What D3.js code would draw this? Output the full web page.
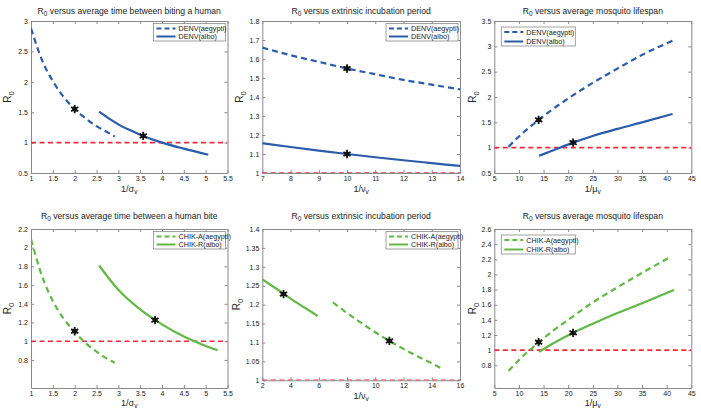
<!DOCTYPE html>
<html><head><meta charset="utf-8">
<script src="https://cdn.jsdelivr.net/npm/d3@7"></script>
<style>body{margin:0;background:#fff} svg{display:block;font-family:"Liberation Sans",Arial,sans-serif}</style>
</head><body><svg id="c" width="701" height="408"></svg>
<script>
// ---------- data ----------
const denvSigAegX = [1, 1.25, 1.5, 1.75, 2, 2.25, 2.5, 2.75, 2.92];
const denvSigAegY = [2.88, 2.36, 2.01, 1.75, 1.55, 1.40, 1.27, 1.17, 1.10];
const denvSigAlbX = [2.56, 2.8, 3, 3.25, 3.5, 4, 4.5, 5.06];
const denvSigAlbY = [1.51, 1.39, 1.30, 1.21, 1.13, 1.00, 0.90, 0.80];
const denvSigStarX = [2, 3.57];
const denvSigStarY = [1.55, 1.11];

const denvNuX = [7, 8, 9, 10, 11, 12, 13, 14];
const denvNuAegY = [1.66, 1.62, 1.585, 1.55, 1.52, 1.49, 1.465, 1.44];
const denvNuAlbY = [1.157, 1.137, 1.118, 1.10, 1.083, 1.067, 1.052, 1.037];
const denvNuStarX = [10, 10];
const denvNuStarY = [1.55, 1.10];

const denvMuAegX = [7.9, 10, 12, 14, 17, 20, 25, 30, 35, 41.2];
const denvMuAegY = [1.02, 1.22, 1.39, 1.55, 1.77, 1.97, 2.28, 2.56, 2.83, 3.11];
const denvMuAlbX = [14.1, 17, 21, 25, 30, 35, 41.2];
const denvMuAlbY = [0.84, 0.95, 1.10, 1.23, 1.37, 1.50, 1.665];
const denvMuStarX = [14, 21];
const denvMuStarY = [1.55, 1.10];

const chikSigAegX = [1, 1.25, 1.5, 1.75, 2, 2.25, 2.5, 2.75, 2.92];
const chikSigAegY = [2.09, 1.70, 1.43, 1.24, 1.10, 0.98, 0.89, 0.81, 0.77];
const chikSigAlbX = [2.56, 3, 3.5, 4, 4.5, 5, 5.27];
const chikSigAlbY = [1.81, 1.55, 1.34, 1.18, 1.05, 0.95, 0.905];
const chikSigStarX = [2, 3.84];
const chikSigStarY = [1.107, 1.226];

const chikNuAlbX = [2, 3, 4, 5, 5.92];
const chikNuAlbY = [1.267, 1.242, 1.216, 1.192, 1.17];
const chikNuAegX = [7, 8, 9, 10, 11, 12, 13, 14, 14.7];
const chikNuAegY = [1.206, 1.178, 1.152, 1.127, 1.104, 1.083, 1.063, 1.045, 1.031];
const chikNuStarX = [3.5, 11];
const chikNuStarY = [1.228, 1.104];

const chikMuAegX = [7.9, 10, 12, 14, 17, 20, 25, 30, 35, 40.7];
const chikMuAegY = [0.725, 0.87, 0.99, 1.10, 1.26, 1.40, 1.63, 1.83, 2.02, 2.23];
const chikMuAlbX = [14.1, 17, 21, 25, 30, 35, 41.5];
const chikMuAlbY = [0.977, 1.09, 1.229, 1.35, 1.49, 1.62, 1.795];
const chikMuStarX = [14, 21];
const chikMuStarY = [1.105, 1.229];

const threshold = 1;

const tSig = [1, 1.5, 2, 2.5, 3, 3.5, 4, 4.5, 5, 5.5];
const tNu1 = [7, 8, 9, 10, 11, 12, 13, 14];
const tNu2 = [2, 4, 6, 8, 10, 12, 14, 16];
const tMu = [5, 10, 15, 20, 25, 30, 35, 40, 45];
const yt1 = [0.5, 1, 1.5, 2, 2.5, 3];
const yt2 = [1, 1.1, 1.2, 1.3, 1.4, 1.5, 1.6, 1.7, 1.8];
const yt3 = [0.5, 1, 1.5, 2, 2.5, 3, 3.5];
const yt4 = [0.8, 1, 1.2, 1.4, 1.6, 1.8, 2, 2.2];
const yt5 = [1, 1.05, 1.1, 1.15, 1.2, 1.25, 1.3, 1.35, 1.4];
const yt6 = [0.8, 1, 1.2, 1.4, 1.6, 1.8, 2, 2.2, 2.4, 2.6];

const titles = ["versus average time between biting a human", "versus extrinsic incubation period", "versus average mosquito lifespan",
                "versus average time between a human bite", "versus extrinsic incubation period", "versus average mosquito lifespan"];
const denvNames = ["DENV(aegypti)", "DENV(albo)"];
const chikNames = ["CHIK-A(aegypti)", "CHIK-R(albo)"];

// ---------- styles ----------
const BLUE = "#2a5caa", GREEN = "#62b845", RED = "#f0283c";

const zip = (xs, ys) => xs.map((x, i) => [x, ys[i]]);

const panels = [
  {box:[31,21,227.5,173], xd:[1,5.5], yd:[0.5,3], xt:tSig, yt:yt1, title:titles[0], greek:"σ", color:BLUE, names:denvNames,
   aeg:zip(denvSigAegX,denvSigAegY), alb:zip(denvSigAlbX,denvSigAlbY), stars:zip(denvSigStarX,denvSigStarY),
   leg:"tr", titleY:13.5, xlabY:191.5, ylabX:11},
  {box:[262.3,21,460,173], xd:[7,14], yd:[1,1.8], xt:tNu1, yt:yt2, title:titles[1], greek:"ν", color:BLUE, names:denvNames,
   aeg:zip(denvNuX,denvNuAegY), alb:zip(denvNuX,denvNuAlbY), stars:zip(denvNuStarX,denvNuStarY),
   leg:"tr", titleY:13.5, xlabY:191.5, ylabX:243},
  {box:[494.3,21,691.3,173], xd:[5,45], yd:[0.5,3.5], xt:tMu, yt:yt3, title:titles[2], greek:"μ", color:BLUE, names:denvNames,
   aeg:zip(denvMuAegX,denvMuAegY), alb:zip(denvMuAlbX,denvMuAlbY), stars:zip(denvMuStarX,denvMuStarY),
   leg:"tl", titleY:13.5, xlabY:191.5, ylabX:476},
  {box:[31,229,227.5,388], xd:[1,5.5], yd:[0.5,2.2], xt:tSig, yt:yt4, title:titles[3], greek:"σ", color:GREEN, names:chikNames,
   aeg:zip(chikSigAegX,chikSigAegY), alb:zip(chikSigAlbX,chikSigAlbY), stars:zip(chikSigStarX,chikSigStarY),
   leg:"tr", titleY:219, xlabY:405.5, ylabX:11},
  {box:[262.3,229,460,380.3], xd:[2,16], yd:[1,1.4], xt:tNu2, yt:yt5, title:titles[4], greek:"ν", color:GREEN, names:chikNames,
   aeg:zip(chikNuAegX,chikNuAegY), alb:zip(chikNuAlbX,chikNuAlbY), stars:zip(chikNuStarX,chikNuStarY),
   leg:"tr", titleY:219, xlabY:398.5, ylabX:240},
  {box:[494.3,229,691.3,388], xd:[5,45], yd:[0.5,2.6], xt:tMu, yt:yt6, title:titles[5], greek:"μ", color:GREEN, names:chikNames,
   aeg:zip(chikMuAegX,chikMuAegY), alb:zip(chikMuAlbX,chikMuAlbY), stars:zip(chikMuStarX,chikMuStarY),
   leg:"tl", titleY:219, xlabY:405.5, ylabX:476}
];

const svg = d3.select("#c");
const fmt = v => String(+v.toFixed(3));

panels.forEach((p, i) => {
  const [x0, y0, x1, y1] = p.box;
  const xs = d3.scaleLinear().domain(p.xd).range([x0, x1]);
  const ys = d3.scaleLinear().domain(p.yd).range([y1, y0]);
  const g = svg.append("g");

  g.append("rect").attr("x", x0).attr("y", y0).attr("width", x1 - x0).attr("height", y1 - y0).attr("fill", "#fff");

  const styleAxis = a => {
    a.selectAll(".domain").attr("stroke", "#8a8a8a").attr("stroke-width", 1);
    a.selectAll(".tick line").attr("stroke", "#8a8a8a");
    a.selectAll("text").attr("fill", "#222").style("font-size", "7px").style("font-family", '"Liberation Sans",Arial,sans-serif');
  };
  g.append("g").attr("transform", `translate(0,${y1})`)
    .call(d3.axisBottom(xs).tickValues(p.xt).tickSizeInner(-3).tickSizeOuter(0).tickPadding(3).tickFormat(fmt)).call(styleAxis);
  g.append("g").attr("transform", `translate(0,${y0})`)
    .call(d3.axisTop(xs).tickValues(p.xt).tickSizeInner(-3).tickSizeOuter(0).tickFormat("")).call(styleAxis);
  g.append("g").attr("transform", `translate(${x0},0)`)
    .call(d3.axisLeft(ys).tickValues(p.yt).tickSizeInner(-3).tickSizeOuter(0).tickPadding(3).tickFormat(fmt)).call(styleAxis);
  g.append("g").attr("transform", `translate(${x1},0)`)
    .call(d3.axisRight(ys).tickValues(p.yt).tickSizeInner(-3).tickSizeOuter(0).tickFormat("")).call(styleAxis);

  const cid = "clip" + i;
  svg.append("clipPath").attr("id", cid).append("rect").attr("x", x0).attr("y", y0).attr("width", x1 - x0).attr("height", y1 - y0);
  const pg = g.append("g").attr("clip-path", `url(#${cid})`);

  const line = d3.line().x(d => xs(d[0])).y(d => ys(d[1])).curve(d3.curveMonotoneX);
  pg.append("path").datum([[p.xd[0], threshold], [p.xd[1], threshold]]).attr("d", line)
    .attr("fill", "none").attr("stroke", RED).attr("stroke-width", 1.6).attr("stroke-dasharray", "5,3.5");
  pg.append("path").datum(p.aeg).attr("d", line).attr("fill", "none").attr("stroke", p.color)
    .attr("stroke-width", 2.2).attr("stroke-dasharray", "6,4");
  pg.append("path").datum(p.alb).attr("d", line).attr("fill", "none").attr("stroke", p.color)
    .attr("stroke-width", 2.2);

  const star = d3.symbol().type(d3.symbolAsterisk).size(48);
  g.selectAll(".st").data(p.stars).join("g").attr("transform", d => `translate(${xs(d[0])},${ys(d[1])})`)
    .each(function() {
      const s = d3.select(this);
      s.append("circle").attr("r", 2.4).attr("fill", "#111");
      s.append("path").attr("d", star()).attr("fill", "none").attr("stroke", "#111").attr("stroke-width", 1.8);
    });

  const lw = p.leg === "tr" ? 72 : 74, lh = p.leg === "tr" ? 17.5 : 19;
  const lx = p.leg === "tr" ? x1 - lw - 2 : x0 + 7;
  const ly = p.leg === "tr" ? y0 + 2.5 : y0 + 6;
  const lg = g.append("g");
  lg.append("rect").attr("x", lx).attr("y", ly).attr("width", lw).attr("height", lh)
    .attr("fill", "#fff").attr("stroke", "#8a8a8a").attr("stroke-width", 0.8);
  p.names.forEach((n, k) => {
    const yy = ly + 5 + k * (lh - 9.5);
    lg.append("line").attr("x1", lx + 3).attr("x2", lx + 22).attr("y1", yy).attr("y2", yy)
      .attr("stroke", p.color).attr("stroke-width", 2).attr("stroke-dasharray", k === 0 ? "5,3" : null);
    lg.append("text").attr("x", lx + 25).attr("y", yy + 2.5).attr("fill", "#222").style("font-size", "7.2px").text(n);
  });

  const t = g.append("text").attr("x", (x0 + x1) / 2).attr("y", p.titleY).attr("text-anchor", "middle")
    .attr("fill", "#222").style("font-size", "8.6px");
  t.append("tspan").text("R");
  t.append("tspan").attr("dy", 2.2).style("font-size", "6.5px").text("0");
  t.append("tspan").attr("dy", -2.2).text(" " + p.title);

  const xl = g.append("text").attr("x", (x0 + x1) / 2).attr("y", p.xlabY).attr("text-anchor", "middle")
    .attr("fill", "#222").style("font-size", "9px");
  xl.append("tspan").text("1/" + p.greek);
  xl.append("tspan").attr("dy", 2).style("font-size", "6.5px").text("v");

  const yl = g.append("text").attr("transform", `translate(${p.ylabX},${(y0 + y1) / 2}) rotate(-90)`)
    .attr("text-anchor", "middle").attr("fill", "#222").style("font-size", "10px");
  yl.append("tspan").text("R");
  yl.append("tspan").attr("dy", 2.5).style("font-size", "7.5px").text("0");
});
</script>
</body></html>
